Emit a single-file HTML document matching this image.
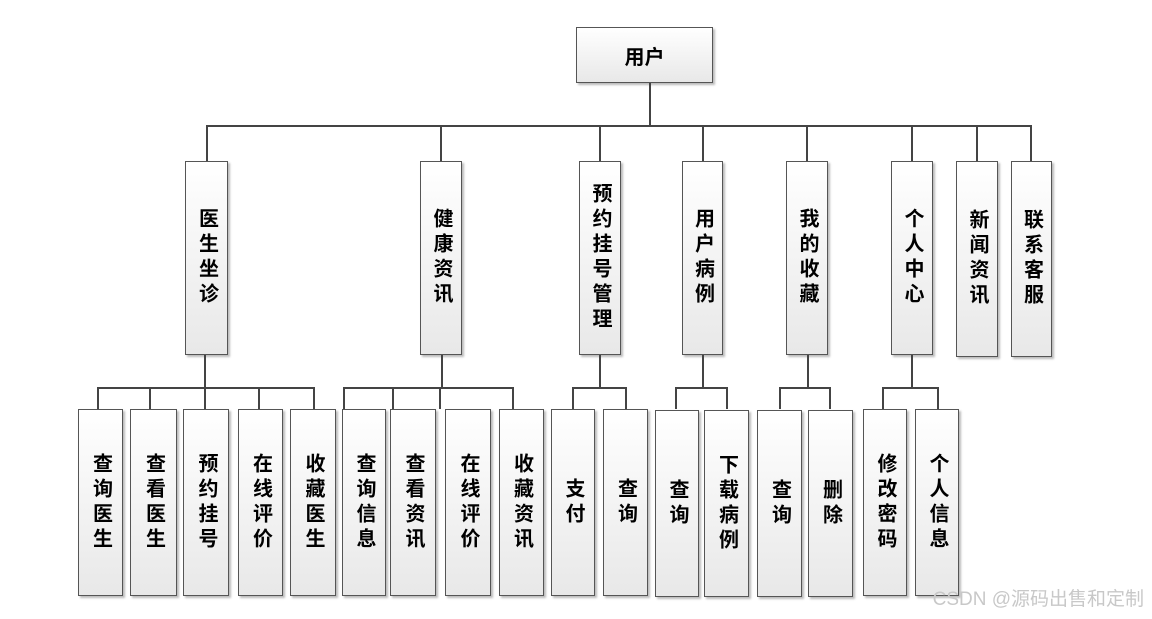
<!DOCTYPE html>
<html><head><meta charset="utf-8"><style>
body{margin:0;width:1152px;height:619px;background:#fff;position:relative;overflow:hidden;font-family:"Liberation Sans","Noto Sans CJK SC",sans-serif;}
.b{position:absolute;box-sizing:border-box;border:1px solid #555;background:linear-gradient(#fff,#e8e8e8);box-shadow:2px 2px 2px #bbb;display:flex;align-items:center;justify-content:center;font-weight:bold;font-size:20px;color:#000;}
.v{writing-mode:vertical-rl;text-orientation:upright;line-height:22px;letter-spacing:5px;}
.l{position:absolute;background:#444;}
.wm{position:absolute;right:8px;bottom:8px;color:#c8c8c8;font-size:19px;}
</style></head><body>
<div class="b" style="left:576px;top:27px;width:137px;height:56px;">用户</div>
<div class="l" style="left:649px;top:83px;width:2px;height:44px"></div>
<div class="l" style="left:206px;top:125px;width:826px;height:2px"></div>

<div class="l" style="left:206px;top:125px;width:2px;height:36px"></div>
<div class="l" style="left:440px;top:125px;width:2px;height:36px"></div>
<div class="l" style="left:599px;top:125px;width:2px;height:36px"></div>
<div class="l" style="left:702px;top:125px;width:2px;height:36px"></div>
<div class="l" style="left:806px;top:125px;width:2px;height:36px"></div>
<div class="l" style="left:911px;top:125px;width:2px;height:36px"></div>
<div class="l" style="left:976px;top:125px;width:2px;height:36px"></div>
<div class="l" style="left:1030px;top:125px;width:2px;height:36px"></div>

<div class="b" style="left:185px;top:161px;width:43px;height:194px"><span class="v">医生坐诊</span></div>
<div class="b" style="left:420px;top:161px;width:42px;height:194px"><span class="v">健康资讯</span></div>
<div class="b" style="left:579px;top:161px;width:42px;height:194px"><span class="v">预约挂号管理</span></div>
<div class="b" style="left:682px;top:161px;width:41px;height:194px"><span class="v">用户病例</span></div>
<div class="b" style="left:786px;top:161px;width:42px;height:194px"><span class="v">我的收藏</span></div>
<div class="b" style="left:891px;top:161px;width:42px;height:194px"><span class="v">个人中心</span></div>
<div class="b" style="left:956px;top:161px;width:42px;height:196px"><span class="v">新闻资讯</span></div>
<div class="b" style="left:1011px;top:161px;width:41px;height:196px"><span class="v">联系客服</span></div>

<!-- verticals down -->
<div class="l" style="left:204px;top:355px;width:2px;height:34px"></div>
<div class="l" style="left:441px;top:355px;width:2px;height:34px"></div>
<div class="l" style="left:599px;top:355px;width:2px;height:34px"></div>
<div class="l" style="left:702px;top:355px;width:2px;height:34px"></div>
<div class="l" style="left:807px;top:355px;width:2px;height:34px"></div>
<div class="l" style="left:911px;top:355px;width:2px;height:34px"></div>
<!-- buses -->
<div class="l" style="left:97px;top:387px;width:218px;height:2px"></div>
<div class="l" style="left:343px;top:387px;width:171px;height:2px"></div>
<div class="l" style="left:572px;top:387px;width:55px;height:2px"></div>
<div class="l" style="left:675px;top:387px;width:53px;height:2px"></div>
<div class="l" style="left:779px;top:387px;width:52px;height:2px"></div>
<div class="l" style="left:882px;top:387px;width:57px;height:2px"></div>
<!-- drops -->
<div class="l" style="left:97px;top:387px;width:2px;height:22px"></div>
<div class="l" style="left:149px;top:387px;width:2px;height:22px"></div>
<div class="l" style="left:204px;top:387px;width:2px;height:22px"></div>
<div class="l" style="left:258px;top:387px;width:2px;height:22px"></div>
<div class="l" style="left:313px;top:387px;width:2px;height:22px"></div>
<div class="l" style="left:343px;top:387px;width:2px;height:22px"></div>
<div class="l" style="left:392px;top:387px;width:2px;height:22px"></div>
<div class="l" style="left:439px;top:387px;width:2px;height:22px"></div>
<div class="l" style="left:512px;top:387px;width:2px;height:22px"></div>
<div class="l" style="left:572px;top:387px;width:2px;height:22px"></div>
<div class="l" style="left:625px;top:387px;width:2px;height:22px"></div>
<div class="l" style="left:675px;top:387px;width:2px;height:22px"></div>
<div class="l" style="left:726px;top:387px;width:2px;height:22px"></div>
<div class="l" style="left:779px;top:387px;width:2px;height:22px"></div>
<div class="l" style="left:829px;top:387px;width:2px;height:22px"></div>
<div class="l" style="left:882px;top:387px;width:2px;height:22px"></div>
<div class="l" style="left:937px;top:387px;width:2px;height:22px"></div>

<div class="b" style="left:78px;top:409px;width:45px;height:187px"><span class="v">查询医生</span></div>
<div class="b" style="left:130px;top:409px;width:47px;height:187px"><span class="v">查看医生</span></div>
<div class="b" style="left:183px;top:409px;width:46px;height:187px"><span class="v">预约挂号</span></div>
<div class="b" style="left:238px;top:409px;width:45px;height:187px"><span class="v">在线评价</span></div>
<div class="b" style="left:290px;top:409px;width:46px;height:187px"><span class="v">收藏医生</span></div>
<div class="b" style="left:342px;top:409px;width:44px;height:187px"><span class="v">查询信息</span></div>
<div class="b" style="left:390px;top:409px;width:46px;height:187px"><span class="v">查看资讯</span></div>
<div class="b" style="left:445px;top:409px;width:46px;height:187px"><span class="v">在线评价</span></div>
<div class="b" style="left:499px;top:409px;width:45px;height:187px"><span class="v">收藏资讯</span></div>
<div class="b" style="left:551px;top:409px;width:44px;height:187px"><span class="v">支付</span></div>
<div class="b" style="left:603px;top:409px;width:45px;height:187px"><span class="v">查询</span></div>
<div class="b" style="left:655px;top:410px;width:44px;height:187px"><span class="v">查询</span></div>
<div class="b" style="left:704px;top:410px;width:45px;height:187px"><span class="v">下载病例</span></div>
<div class="b" style="left:757px;top:410px;width:45px;height:187px"><span class="v">查询</span></div>
<div class="b" style="left:808px;top:410px;width:45px;height:187px"><span class="v">删除</span></div>
<div class="b" style="left:863px;top:409px;width:44px;height:187px"><span class="v">修改密码</span></div>
<div class="b" style="left:915px;top:409px;width:44px;height:187px"><span class="v">个人信息</span></div>

<div class="wm">CSDN @源码出售和定制</div>
</body></html>
